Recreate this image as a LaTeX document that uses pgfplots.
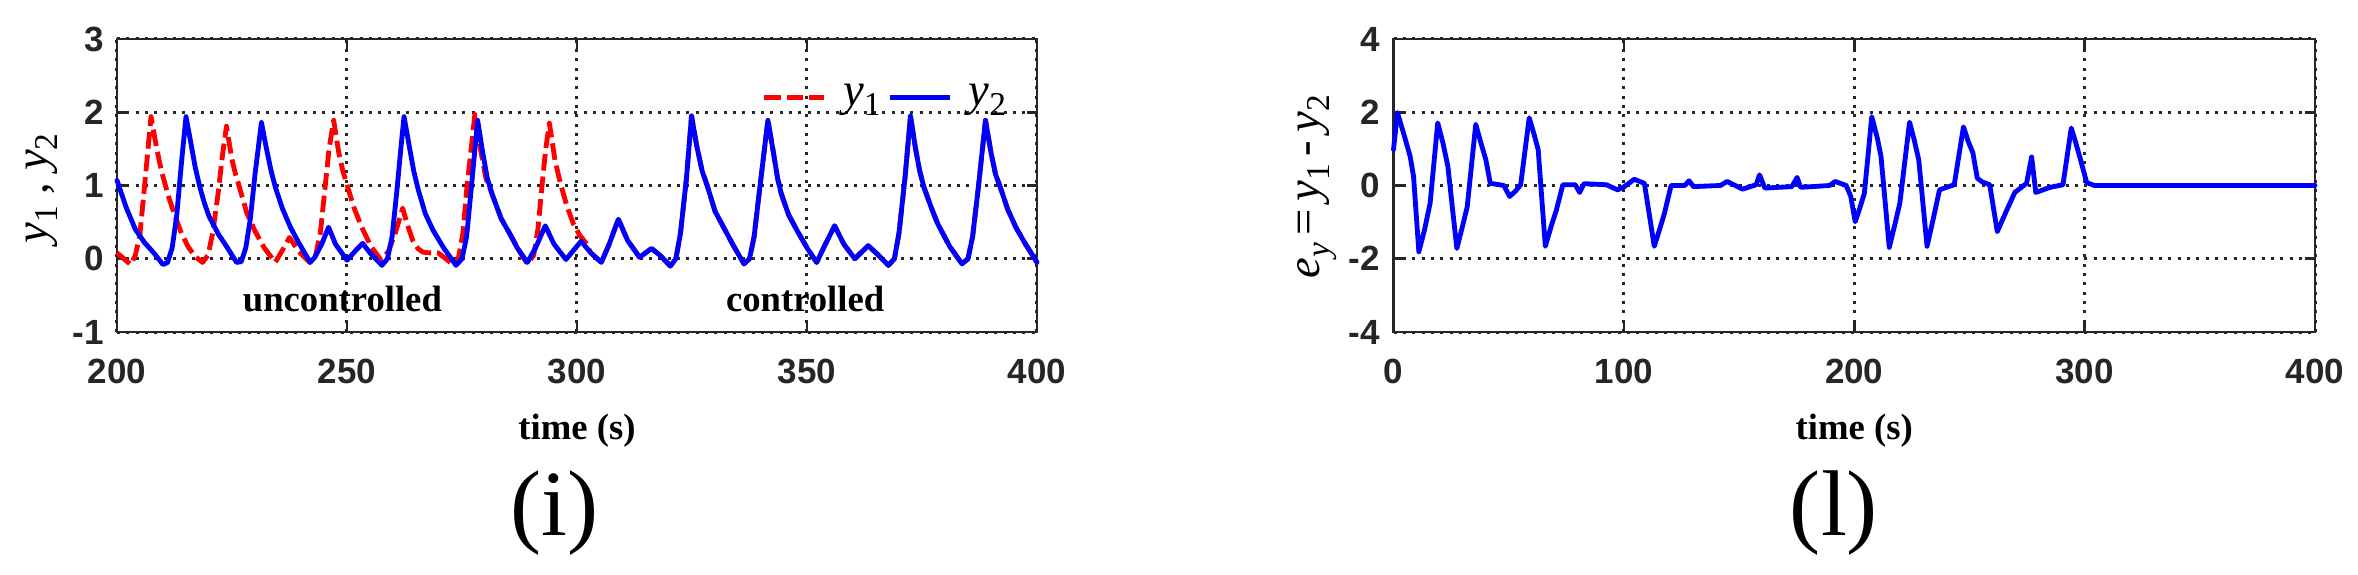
\documentclass[border=0pt]{standalone}
\usepackage{fontspec}
\setmainfont{Liberation Serif}
\setsansfont{Liberation Sans}
\usepackage{pgfplots}
\pgfplotsset{compat=1.18}
\newcommand{\sub}[1]{\raisebox{-0.45ex}{\fontsize{10}{10}\selectfont #1}}
\definecolor{axc}{RGB}{38,38,38}
\pgfplotsset{mstyle/.style={
  scale only axis, anchor=south west, clip=false,
  width=276pt, height=87.9pt,
  axis line style={line width=0.8pt, color=axc},
  tick align=inside, major tick length=3pt,
  every tick/.style={line width=0.8pt, axc},
  grid=major,
  major grid style={line width=0.9pt, axc, dash pattern=on 0.9pt off 1.9pt},
  ticklabel style={font=\sffamily\bfseries\fontsize{10.5}{12}\selectfont, text=axc},
  /pgf/number format/assume math mode=true,
  xticklabel style={yshift=-4.5pt},
  yticklabel style={xshift=-0.5pt},
  every axis x label/.style={at={(axis description cs:0.5,-0.336)}, anchor=center, font=\bfseries\fontsize{11}{12}\selectfont},
  every axis plot/.append style={line join=round, line cap=round},
}}
\begin{document}
\begin{tikzpicture}
\path[use as bounding box] (0,0) rectangle (707.4pt,172.2pt);
\begin{axis}[mstyle, at={(35.1pt,72.6pt)},
  xmin=200, xmax=400, ymin=-1, ymax=3,
  xtick={200,250,300,350,400}, ytick={-1,0,1,2,3},
  xlabel={time (s)},
  every axis y label/.style={at={(axis description cs:-0.0815,0.49)}, rotate=90, anchor=center, font=\fontsize{14}{15}\selectfont},
  ylabel={\textit{y}\sub{1} , \textit{y}\sub{2}},
  legend style={draw=none, fill=none, at={(axis description cs:0.70,0.80)}, anchor=west,
    inner sep=0pt, nodes={inner sep=1pt, font=\fontsize{14}{15}\selectfont},
    /tikz/every odd column/.append style={column sep=4pt},
    /tikz/every even column/.append style={column sep=1pt}},
  legend columns=2,
  legend image code/.code={\draw[#1, line cap=butt] (0pt,0pt) -- (18pt,0pt);},
]
\addplot[red, line width=1.45pt, dash pattern=on 5pt off 1.8pt, line cap=butt] coordinates {
(200,0.08) (201.5,0.0) (203,-0.08) (204,0.05) (205,0.34) (206,1.0) (207.4,1.94)
(208.5,1.55) (209.3,1.3) (210,1.12) (211.3,0.83) (212.7,0.57) (214,0.35) (215.5,0.16)
(217,0.03) (218.6,-0.05) (219.8,0.05) (220.8,0.35) (222,0.9) (222.9,1.4) (223.8,1.81)
(225,1.35) (225.8,1.15) (226.6,0.98) (228.2,0.63) (229.9,0.39) (232,0.15) (234.4,-0.05)
(236,0.12) (237.5,0.29) (239.5,0.1) (241.9,-0.05) (243.2,0.05) (244.2,0.35) (245.2,0.95)
(246.1,1.5) (247.1,1.89) (248.2,1.45) (249.1,1.2) (249.9,1.03) (251.5,0.7) (253.2,0.43)
(255.2,0.17) (257.4,-0.02) (259,0.1) (260.5,0.35) (262.1,0.69) (263.2,0.45) (264.3,0.25)
(265.4,0.14) (266.5,0.09) (268,0.08) (269.8,0.08) (271.5,0.0) (273.2,-0.09) (274.2,0.0)
(275.2,0.35) (276.1,1.0) (277,1.5) (277.8,1.97) (279,1.5) (280.2,1.1) (281.5,0.89)
(283.5,0.55) (285.4,0.34) (287.3,0.12) (289.2,-0.07) (290.6,0.05) (291.5,0.4) (292.4,1.0)
(293.2,1.5) (294,1.85) (295.2,1.35) (296.4,1.03) (297.8,0.72) (299.2,0.48) (300.6,0.32)
(302,0.21) (303,0.08) (305.3,-0.05)
(307,0.2) (309,0.54) (311,0.25) (313.6,0.02) (316.2,0.14) (318,0.05) (320.3,-0.1)
(321.5,0.0) (322.5,0.35) (323.8,1.1) (324.9,1.95) (326,1.55) (327.2,1.2) (328.4,0.98)
(330,0.65) (332.2,0.39) (334,0.18) (336.3,-0.07) (337.5,0.0) (338.5,0.3) (339.8,1.0)
(341.5,1.89) (342.7,1.45) (343.6,1.1) (344.4,0.89) (346,0.6) (347.8,0.39) (350,0.15)
(352.1,-0.05) (354,0.2) (356,0.45) (358,0.2) (360.4,0.0) (363.3,0.18) (365.5,0.05)
(367.7,-0.09) (369,0.0) (370,0.35) (371.3,1.1) (372.5,1.95) (373.6,1.5) (374.5,1.2)
(375.4,0.98) (377,0.7) (378.4,0.48) (381,0.17) (383.7,-0.07) (385,0.0) (386,0.3)
(387.3,1.0) (388.8,1.89) (390,1.45) (391,1.15) (392,0.98) (393.6,0.68) (395.4,0.43)
(397.5,0.2) (400,-0.05)
};
\addlegendentry{\textit{y}\sub{1}}
\addplot[blue, line width=1.45pt] coordinates {
(200,1.07) (202,0.70) (204,0.40) (206,0.22) (208,0.08) (210,-0.08) (211,-0.05) (212,0.15)
(213,0.6) (214,1.3) (215,1.94) (216,1.6) (217,1.25) (218,0.98) (219,0.76) (220,0.58)
(222,0.34) (224,0.15) (226,-0.05) (227,-0.04) (228,0.15) (229,0.55) (230,1.15) (231.4,1.86)
(232.5,1.5) (233.5,1.2) (234.5,0.96) (236,0.68) (237.7,0.43) (239.5,0.22) (242,-0.05)
(243,0.02) (244.5,0.2) (246,0.43) (247.5,0.2) (250,-0.02) (252,0.12) (253.4,0.21)
(255,0.08) (257.6,-0.09) (258.8,0.0) (259.8,0.3) (260.8,0.9) (261.7,1.5) (262.4,1.94)
(263.5,1.55) (264.5,1.2) (265.5,0.94) (267,0.62) (268.7,0.39) (271,0.15) (273.7,-0.09)
(275,0.0) (276,0.3) (277,0.95) (278.4,1.89) (279.5,1.45) (280.5,1.1) (281.5,0.89)
(283.5,0.55) (285.4,0.34) (287,0.15) (289.2,-0.05) (291,0.15) (293.1,0.45) (295,0.2)
(297.6,-0.01) (300.9,0.24) (303,0.08) (305.3,-0.05)
(307,0.2) (309,0.54) (311,0.25) (313.6,0.02) (316.2,0.14) (318,0.05) (320.3,-0.1)
(321.5,0.0) (322.5,0.35) (323.8,1.1) (324.9,1.95) (326,1.55) (327.2,1.2) (328.4,0.98)
(330,0.65) (332.2,0.39) (334,0.18) (336.3,-0.07) (337.5,0.0) (338.5,0.3) (339.8,1.0)
(341.5,1.89) (342.7,1.45) (343.6,1.1) (344.4,0.89) (346,0.6) (347.8,0.39) (350,0.15)
(352.1,-0.05) (354,0.2) (356,0.45) (358,0.2) (360.4,0.0) (363.3,0.18) (365.5,0.05)
(367.7,-0.09) (369,0.0) (370,0.35) (371.3,1.1) (372.5,1.95) (373.6,1.5) (374.5,1.2)
(375.4,0.98) (377,0.7) (378.4,0.48) (381,0.17) (383.7,-0.07) (385,0.0) (386,0.3)
(387.3,1.0) (388.8,1.89) (390,1.45) (391,1.15) (392,0.98) (393.6,0.68) (395.4,0.43)
(397.5,0.2) (400,-0.05)
};
\addlegendentry{\textit{y}\sub{2}}
\node[font=\bfseries\fontsize{11}{12}\selectfont] at (axis cs:249,-0.55) {uncontrolled};
\node[font=\bfseries\fontsize{11}{12}\selectfont] at (axis cs:349.6,-0.55) {controlled};
\node[font=\fontsize{28}{30}\selectfont] at (axis description cs:0.476,-0.618) {(i)};
\end{axis}
\begin{axis}[mstyle, at={(418.05pt,72.6pt)}, width=276.45pt,
  xmin=0, xmax=400, ymin=-4, ymax=4,
  xtick={0,100,200,300,400}, ytick={-4,-2,0,2,4},
  xlabel={time (s)},
  every axis y label/.style={at={(axis description cs:-0.083,0.495)}, rotate=90, anchor=center, font=\fontsize{14}{15}\selectfont},
  ylabel={\textit{e}\sub{\textit{y}}\,=\,\textit{y}\sub{1}\,-\,\textit{y}\sub{2}},
]
\addplot[blue, line width=1.45pt] coordinates {
(0,0.98) (1.7,1.99) (4.5,1.4) (7.2,0.8) (8.7,0.25) (11,-1.81) (13.5,-1.2) (15.9,-0.48)
(19.2,1.71) (21.5,1.15) (23.6,0.52) (27.5,-1.72) (30,-1.1) (32,-0.58) (35.7,1.67)
(38,1.15) (40.1,0.7) (42,0.06) (46,0.02) (47.9,0) (50.4,-0.3) (53,-0.15) (55.2,0.02)
(58.9,1.85) (61,1.4) (62.8,0.98) (65.9,-1.66) (68.5,-1.1) (70.7,-0.67) (73.5,0.02)
(78.9,0.02) (80.8,-0.19) (82.7,0.05) (92.4,0.02) (97.3,-0.12) (100.2,-0.03) (104.5,0.17)
(108.9,0.06) (113.2,-1.66) (115.5,-1.2) (117.6,-0.76) (120.5,0) (126.4,0) (128.3,0.13)
(130.2,-0.03) (141.9,0) (144.8,0.11) (151.5,-0.1) (157.4,0.02) (158.9,0.29) (161.2,-0.07)
(172.9,-0.03) (175.2,0.22) (176.7,-0.05) (189.3,0) (191.7,0.11) (196.5,0.0) (198.5,-0.3)
(200.4,-0.99) (202.5,-0.6) (204.4,-0.21) (207.6,1.88) (210,1.3) (211.6,0.8) (215.2,-1.69)
(217.5,-1.1) (219.8,-0.48) (224,1.73) (226,1.25) (228,0.7) (231.6,-1.66) (234.5,-0.85)
(237,-0.12) (240,-0.05) (243.4,0.02) (247.4,1.6) (249.5,1.2) (251.5,0.89) (253.4,0.2)
(255.5,0.1) (258.8,0.02) (262.1,-1.26) (266,-0.7) (269.7,-0.19) (274.8,0.06) (277,0.78)
(278.8,-0.19) (285,-0.05) (290.6,0.02) (294.2,1.57) (296,1.2) (297.8,0.8) (300.9,0.08)
(304.2,0) (400,0)
};
\node[font=\fontsize{28}{30}\selectfont] at (axis description cs:0.478,-0.618) {(l)};
\end{axis}
\end{tikzpicture}
\end{document}
